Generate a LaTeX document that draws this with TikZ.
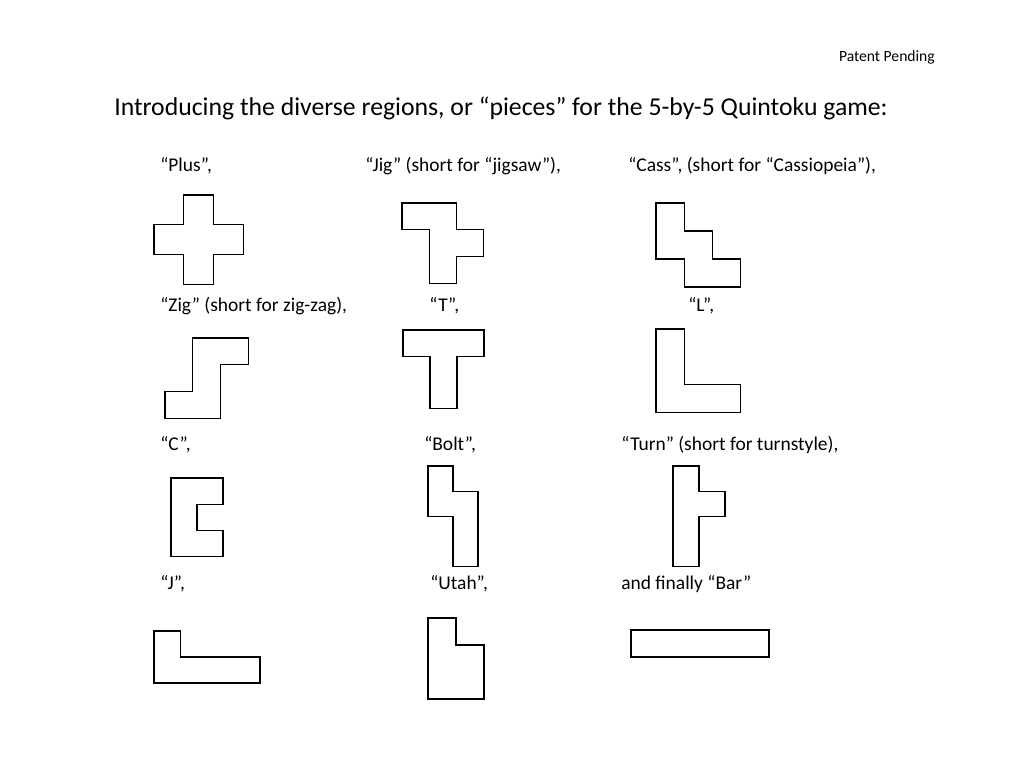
\documentclass[tikz,border=0pt]{standalone}
\usepackage{fontspec}
\setmainfont{Carlito}

\tikzset{
  piece/.style={draw, thick, line join=miter},
  label/.style={anchor=west, inner sep=0pt, font=\fontsize{14.6}{16}\selectfont}
}

% Draw one piece: origin x, origin y, cell width, cell height, outline
\newcommand{\piece}[5]{%
  \begin{scope}[shift={(#1,#2)}, x=#3*0.75pt, y=-#4*0.75pt]
    \draw[piece] #5;
  \end{scope}}

\begin{document}
\begin{tikzpicture}[x=0.75pt, y=-0.75pt]

\useasboundingbox (0,0) rectangle (1024,768);

% Header
\node[anchor=east, inner sep=0pt, font=\fontsize{11.7}{13}\selectfont] (patent) at (935,57) {Patent Pending};
\node[anchor=west, inner sep=0pt, font=\fontsize{19.3}{23}\selectfont] (title) at (114,108)
  {Introducing the diverse regions, or “pieces” for the 5-by-5 Quintoku game:};

% Labels
\node[label] (plusLbl) at (160,166) {“Plus”,};
\node[label] (jigLbl)  at (365,166) {“Jig” (short for “jigsaw”),};
\node[label] (cassLbl) at (628,166) {“Cass”, (short for “Cassiopeia”),};
\node[label] (zigLbl)  at (160,306) {“Zig” (short for zig-zag),};
\node[label] (tLbl)    at (429,306) {“T”,};
\node[label] (lLbl)    at (688,306) {“L”,};
\node[label] (cLbl)    at (160,445) {“C”,};
\node[label] (boltLbl) at (424,445) {“Bolt”,};
\node[label] (turnLbl) at (621,445) {“Turn” (short for turnstyle),};
\node[label] (jLbl)    at (160,584) {“J”,};
\node[label] (utahLbl) at (430,584) {“Utah”,};
\node[label] (barLbl)  at (621,584) {and finally “Bar”};

% Pieces
\piece{154}{195}{29.7}{29.7}{(1,0) -- (2,0) -- (2,1) -- (3,1) -- (3,2) -- (2,2) -- (2,3) -- (1,3) -- (1,2) -- (0,2) -- (0,1) -- (1,1) -- cycle}
\piece{402}{203}{27.3}{26.7}{(0,0) -- (2,0) -- (2,1) -- (3,1) -- (3,2) -- (2,2) -- (2,3) -- (1,3) -- (1,1) -- (0,1) -- cycle}
\piece{656}{203}{28.3}{28}{(0,0) -- (1,0) -- (1,1) -- (2,1) -- (2,2) -- (3,2) -- (3,3) -- (1,3) -- (1,2) -- (0,2) -- cycle}
\piece{165}{338}{27.7}{26.7}{(1,0) -- (3,0) -- (3,1) -- (2,1) -- (2,3) -- (0,3) -- (0,2) -- (1,2) -- cycle}
\piece{403}{330}{27}{26.3}{(0,0) -- (3,0) -- (3,1) -- (2,1) -- (2,3) -- (1,3) -- (1,1) -- (0,1) -- cycle}
\piece{656}{329}{28.3}{27.7}{(0,0) -- (1,0) -- (1,2) -- (3,2) -- (3,3) -- (0,3) -- cycle}
\piece{171}{478}{26}{26.3}{(0,0) -- (2,0) -- (2,1) -- (1,1) -- (1,2) -- (2,2) -- (2,3) -- (0,3) -- cycle}
\piece{428}{466}{25}{25.2}{(0,0) -- (1,0) -- (1,1) -- (2,1) -- (2,4) -- (1,4) -- (1,2) -- (0,2) -- cycle}
\piece{673}{466}{26}{25.2}{(0,0) -- (1,0) -- (1,1) -- (2,1) -- (2,2) -- (1,2) -- (1,4) -- (0,4) -- cycle}
\piece{154}{631}{26.5}{26}{(0,0) -- (1,0) -- (1,1) -- (4,1) -- (4,2) -- (0,2) -- cycle}
\piece{428}{618}{28}{27}{(0,0) -- (1,0) -- (1,1) -- (2,1) -- (2,3) -- (0,3) -- cycle}
\piece{631}{630}{27.6}{27}{(0,0) -- (5,0) -- (5,1) -- (0,1) -- cycle}

\end{tikzpicture}
\end{document}
